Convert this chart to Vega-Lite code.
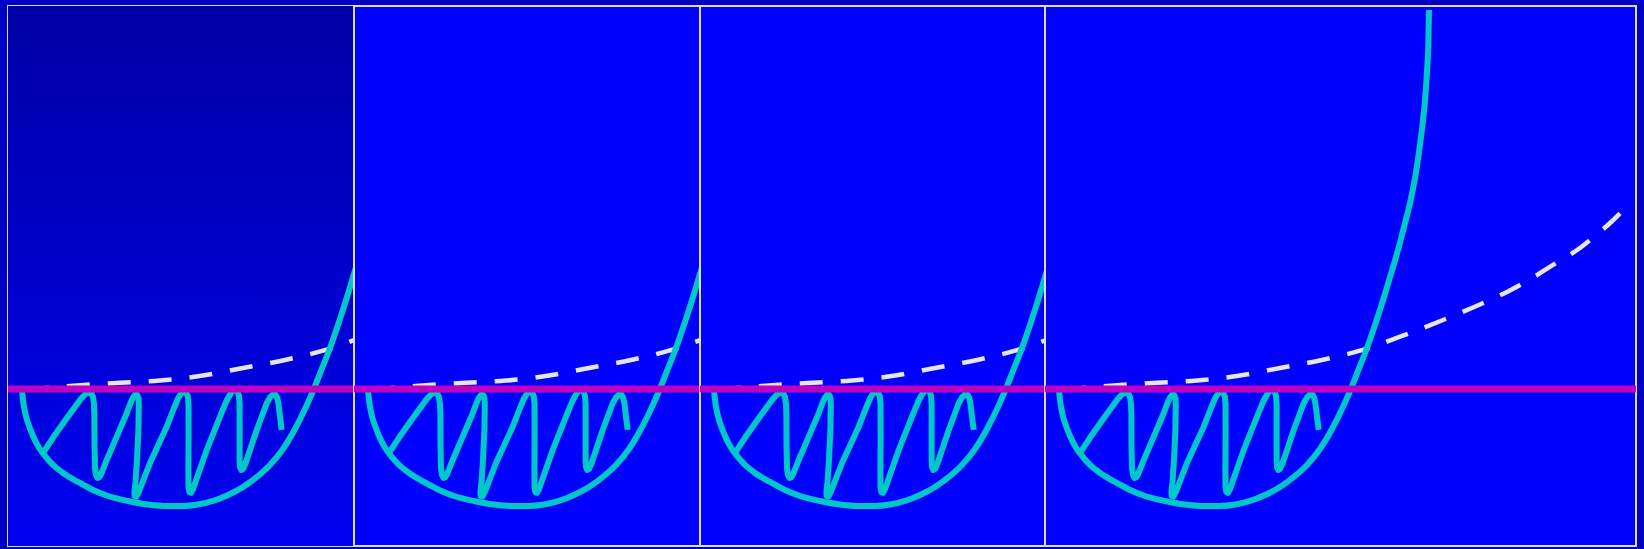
{
  "$schema": "https://vega.github.io/schema/vega-lite/v6.json",
  "background": "#0000c4",
  "padding": {"left": 7, "top": 5, "right": 7, "bottom": 2},
  "spacing": 0,
  "bounds": "flush",
  "config": {
    "view": {"stroke": "#dcdcdc", "strokeWidth": 2, "fill": "#0000ff"},
    "concat": {"spacing": 0}
  },
  "datasets": {
    "bg": [{"x": 0, "x2": 10, "y": -4.1, "y2": 10}],
    "zero": [{"y": 0}],
    "ucurve": [
      {"x": 0.405, "y": -0.026}, {"x": 0.434, "y": -0.287}, {"x": 0.491, "y": -0.601}, {"x": 0.578, "y": -0.888},
      {"x": 0.723, "y": -1.227}, {"x": 0.867, "y": -1.488}, {"x": 1.069, "y": -1.749}, {"x": 1.301, "y": -1.984},
      {"x": 1.59, "y": -2.193}, {"x": 2.023, "y": -2.428}, {"x": 2.457, "y": -2.637}, {"x": 2.89, "y": -2.794},
      {"x": 3.468, "y": -2.924}, {"x": 4.046, "y": -3.016}, {"x": 4.624, "y": -3.055}, {"x": 5.058, "y": -3.055},
      {"x": 5.491, "y": -3.016}, {"x": 5.925, "y": -2.924}, {"x": 6.358, "y": -2.768}, {"x": 6.792, "y": -2.559},
      {"x": 7.225, "y": -2.272}, {"x": 7.572, "y": -1.984}, {"x": 7.948, "y": -1.567}, {"x": 8.295, "y": -1.044},
      {"x": 8.584, "y": -0.522}, {"x": 8.815, "y": -0.052}, {"x": 9.046, "y": 0.47}, {"x": 9.306, "y": 1.07},
      {"x": 9.566, "y": 1.749}, {"x": 9.798, "y": 2.402}, {"x": 10.0, "y": 3.003}, {"x": 10.202, "y": 3.629},
      {"x": 10.376, "y": 4.23}, {"x": 10.549, "y": 4.856}, {"x": 10.694, "y": 5.509}, {"x": 10.809, "y": 6.188},
      {"x": 10.91, "y": 6.893}, {"x": 10.983, "y": 7.546}, {"x": 11.04, "y": 8.277}, {"x": 11.078, "y": 8.982},
      {"x": 11.098, "y": 9.896}
    ],
    "wiggle": [
      {"i": 1, "x": 0.974, "y": -1.723}, {"i": 2, "x": 1.309, "y": -1.261}, {"i": 3, "x": 1.697, "y": -0.765},
      {"i": 4, "x": 2.081, "y": -0.287}, {"i": 5, "x": 2.182, "y": -0.183}, {"i": 6, "x": 2.269, "y": -0.112},
      {"i": 7, "x": 2.35, "y": -0.094}, {"i": 8, "x": 2.413, "y": -0.125}, {"i": 9, "x": 2.457, "y": -0.209},
      {"i": 10, "x": 2.486, "y": -0.392}, {"i": 11, "x": 2.497, "y": -0.679}, {"i": 12, "x": 2.5, "y": -1.462},
      {"i": 13, "x": 2.514, "y": -2.063}, {"i": 14, "x": 2.543, "y": -2.245}, {"i": 15, "x": 2.587, "y": -2.324},
      {"i": 16, "x": 2.639, "y": -2.305}, {"i": 17, "x": 2.688, "y": -2.232}, {"i": 18, "x": 2.853, "y": -1.854},
      {"i": 19, "x": 3.142, "y": -1.245}, {"i": 20, "x": 3.431, "y": -0.634}, {"i": 21, "x": 3.54, "y": -0.366},
      {"i": 22, "x": 3.613, "y": -0.222}, {"i": 23, "x": 3.679, "y": -0.146}, {"i": 24, "x": 3.737, "y": -0.157},
      {"i": 25, "x": 3.772, "y": -0.248}, {"i": 26, "x": 3.78, "y": -0.418}, {"i": 27, "x": 3.769, "y": -1.07},
      {"i": 28, "x": 3.728, "y": -1.854}, {"i": 29, "x": 3.685, "y": -2.428}, {"i": 30, "x": 3.656, "y": -2.663},
      {"i": 31, "x": 3.659, "y": -2.794}, {"i": 32, "x": 3.714, "y": -2.807}, {"i": 33, "x": 3.786, "y": -2.676},
      {"i": 34, "x": 4.104, "y": -1.932}, {"i": 35, "x": 4.587, "y": -0.984}, {"i": 36, "x": 4.798, "y": -0.496},
      {"i": 37, "x": 4.913, "y": -0.248}, {"i": 38, "x": 5.009, "y": -0.104}, {"i": 39, "x": 5.087, "y": -0.068},
      {"i": 40, "x": 5.153, "y": -0.099}, {"i": 41, "x": 5.197, "y": -0.196}, {"i": 42, "x": 5.217, "y": -0.392},
      {"i": 43, "x": 5.22, "y": -1.149}, {"i": 44, "x": 5.214, "y": -2.115}, {"i": 45, "x": 5.217, "y": -2.559},
      {"i": 46, "x": 5.24, "y": -2.689}, {"i": 47, "x": 5.289, "y": -2.71}, {"i": 48, "x": 5.347, "y": -2.611},
      {"i": 49, "x": 5.743, "y": -1.593}, {"i": 50, "x": 6.127, "y": -0.723}, {"i": 51, "x": 6.315, "y": -0.313},
      {"i": 52, "x": 6.416, "y": -0.144}, {"i": 53, "x": 6.503, "y": -0.039}, {"i": 54, "x": 6.575, "y": -0.021},
      {"i": 55, "x": 6.639, "y": -0.065}, {"i": 56, "x": 6.676, "y": -0.183}, {"i": 57, "x": 6.694, "y": -0.392},
      {"i": 58, "x": 6.694, "y": -1.149}, {"i": 59, "x": 6.694, "y": -1.854}, {"i": 60, "x": 6.705, "y": -2.037},
      {"i": 61, "x": 6.743, "y": -2.115}, {"i": 62, "x": 6.792, "y": -2.089}, {"i": 63, "x": 6.864, "y": -1.945},
      {"i": 64, "x": 7.188, "y": -1.07}, {"i": 65, "x": 7.477, "y": -0.373}, {"i": 66, "x": 7.572, "y": -0.222},
      {"i": 67, "x": 7.659, "y": -0.144}, {"i": 68, "x": 7.731, "y": -0.149}, {"i": 69, "x": 7.78, "y": -0.235},
      {"i": 70, "x": 7.818, "y": -0.392}, {"i": 71, "x": 7.861, "y": -0.723}, {"i": 72, "x": 7.91, "y": -1.07}
    ],
    "dashed": [
      {"x": 0.52, "y": -0.02}, {"x": 1.156, "y": 0.03}, {"x": 2.081, "y": 0.1}, {"x": 3.237, "y": 0.16},
      {"x": 4.393, "y": 0.22}, {"x": 5.636, "y": 0.35}, {"x": 6.792, "y": 0.548}, {"x": 8.006, "y": 0.757},
      {"x": 9.104, "y": 1.0}, {"x": 10.318, "y": 1.384}, {"x": 11.503, "y": 1.802}, {"x": 12.601, "y": 2.22},
      {"x": 13.41, "y": 2.56}, {"x": 14.017, "y": 2.86}, {"x": 14.682, "y": 3.24}, {"x": 15.491, "y": 3.7},
      {"x": 15.954, "y": 4.04}, {"x": 16.387, "y": 4.38}, {"x": 16.879, "y": 4.83}
    ]
  },
  "hconcat": [
    {
      "width": 346, "height": 540,
      "layer": [
        {"data": {"name": "bg"}, "mark": {"type": "rect", "clip": true, "fill": {"gradient": "linear", "x1": 0, "y1": 0, "x2": 0, "y2": 1, "stops": [{"offset": 0, "color": "#0000a6"}, {"offset": 1, "color": "#0000f2"}]}},
         "encoding": {"x": {"field": "x", "type": "quantitative", "scale": {"domain": [0, 10], "nice": false, "zero": false}, "axis": null}, "x2": {"field": "x2"},
                      "y": {"field": "y", "type": "quantitative", "scale": {"domain": [-4.1, 10], "nice": false, "zero": false}, "axis": null}, "y2": {"field": "y2"}}},
        {"data": {"name": "dashed"}, "mark": {"type": "line", "clip": true, "color": "#e6e6e6", "strokeWidth": 4.5, "strokeDash": [23, 18], "interpolate": "monotone", "strokeCap": "butt"},
         "encoding": {"x": {"field": "x", "type": "quantitative", "scale": {"domain": [0, 10], "nice": false, "zero": false}, "axis": null}, "y": {"field": "y", "type": "quantitative", "scale": {"domain": [-4.1, 10], "nice": false, "zero": false}, "axis": null}}},
        {"data": {"name": "ucurve"}, "mark": {"type": "line", "clip": true, "color": "#00c8c8", "strokeWidth": 6, "interpolate": "monotone", "strokeCap": "butt"},
         "encoding": {"x": {"field": "x", "type": "quantitative", "scale": {"domain": [0, 10], "nice": false, "zero": false}, "axis": null}, "y": {"field": "y", "type": "quantitative", "scale": {"domain": [-4.1, 10], "nice": false, "zero": false}, "axis": null}}},
        {"data": {"name": "wiggle"}, "mark": {"type": "line", "clip": true, "color": "#00c8c8", "strokeWidth": 6, "strokeCap": "butt", "strokeJoin": "round"},
         "encoding": {"x": {"field": "x", "type": "quantitative", "scale": {"domain": [0, 10], "nice": false, "zero": false}, "axis": null}, "y": {"field": "y", "type": "quantitative", "scale": {"domain": [-4.1, 10], "nice": false, "zero": false}, "axis": null}, "order": {"field": "i", "type": "quantitative"}}},
        {"data": {"name": "zero"}, "mark": {"type": "rule", "clip": true, "color": "#c000c0", "strokeWidth": 7, "strokeCap": "butt"},
         "encoding": {"y": {"field": "y", "type": "quantitative", "scale": {"domain": [-4.1, 10], "nice": false, "zero": false}, "axis": null}}}
      ]
    },
    {
      "width": 346, "height": 540,
      "layer": [
        {"data": {"name": "dashed"}, "mark": {"type": "line", "clip": true, "color": "#e6e6e6", "strokeWidth": 4.5, "strokeDash": [23, 18], "interpolate": "monotone", "strokeCap": "butt"},
         "encoding": {"x": {"field": "x", "type": "quantitative", "scale": {"domain": [0, 10], "nice": false, "zero": false}, "axis": null}, "y": {"field": "y", "type": "quantitative", "scale": {"domain": [-4.1, 10], "nice": false, "zero": false}, "axis": null}}},
        {"data": {"name": "ucurve"}, "mark": {"type": "line", "clip": true, "color": "#00c8c8", "strokeWidth": 6, "interpolate": "monotone", "strokeCap": "butt"},
         "encoding": {"x": {"field": "x", "type": "quantitative", "scale": {"domain": [0, 10], "nice": false, "zero": false}, "axis": null}, "y": {"field": "y", "type": "quantitative", "scale": {"domain": [-4.1, 10], "nice": false, "zero": false}, "axis": null}}},
        {"data": {"name": "wiggle"}, "mark": {"type": "line", "clip": true, "color": "#00c8c8", "strokeWidth": 6, "strokeCap": "butt", "strokeJoin": "round"},
         "encoding": {"x": {"field": "x", "type": "quantitative", "scale": {"domain": [0, 10], "nice": false, "zero": false}, "axis": null}, "y": {"field": "y", "type": "quantitative", "scale": {"domain": [-4.1, 10], "nice": false, "zero": false}, "axis": null}, "order": {"field": "i", "type": "quantitative"}}},
        {"data": {"name": "zero"}, "mark": {"type": "rule", "clip": true, "color": "#c000c0", "strokeWidth": 7, "strokeCap": "butt"},
         "encoding": {"y": {"field": "y", "type": "quantitative", "scale": {"domain": [-4.1, 10], "nice": false, "zero": false}, "axis": null}}}
      ]
    },
    {
      "width": 345, "height": 540,
      "layer": [
        {"data": {"name": "dashed"}, "mark": {"type": "line", "clip": true, "color": "#e6e6e6", "strokeWidth": 4.5, "strokeDash": [23, 18], "interpolate": "monotone", "strokeCap": "butt"},
         "encoding": {"x": {"field": "x", "type": "quantitative", "scale": {"domain": [0, 9.971], "nice": false, "zero": false}, "axis": null}, "y": {"field": "y", "type": "quantitative", "scale": {"domain": [-4.1, 10], "nice": false, "zero": false}, "axis": null}}},
        {"data": {"name": "ucurve"}, "mark": {"type": "line", "clip": true, "color": "#00c8c8", "strokeWidth": 6, "interpolate": "monotone", "strokeCap": "butt"},
         "encoding": {"x": {"field": "x", "type": "quantitative", "scale": {"domain": [0, 9.971], "nice": false, "zero": false}, "axis": null}, "y": {"field": "y", "type": "quantitative", "scale": {"domain": [-4.1, 10], "nice": false, "zero": false}, "axis": null}}},
        {"data": {"name": "wiggle"}, "mark": {"type": "line", "clip": true, "color": "#00c8c8", "strokeWidth": 6, "strokeCap": "butt", "strokeJoin": "round"},
         "encoding": {"x": {"field": "x", "type": "quantitative", "scale": {"domain": [0, 9.971], "nice": false, "zero": false}, "axis": null}, "y": {"field": "y", "type": "quantitative", "scale": {"domain": [-4.1, 10], "nice": false, "zero": false}, "axis": null}, "order": {"field": "i", "type": "quantitative"}}},
        {"data": {"name": "zero"}, "mark": {"type": "rule", "clip": true, "color": "#c000c0", "strokeWidth": 7, "strokeCap": "butt"},
         "encoding": {"y": {"field": "y", "type": "quantitative", "scale": {"domain": [-4.1, 10], "nice": false, "zero": false}, "axis": null}}}
      ]
    },
    {
      "width": 591, "height": 540,
      "layer": [
        {"data": {"name": "dashed"}, "mark": {"type": "line", "clip": true, "color": "#e6e6e6", "strokeWidth": 4.5, "strokeDash": [23, 18], "interpolate": "monotone", "strokeCap": "butt"},
         "encoding": {"x": {"field": "x", "type": "quantitative", "scale": {"domain": [0, 17.081], "nice": false, "zero": false}, "axis": null}, "y": {"field": "y", "type": "quantitative", "scale": {"domain": [-4.1, 10], "nice": false, "zero": false}, "axis": null}}},
        {"data": {"name": "ucurve"}, "mark": {"type": "line", "clip": true, "color": "#00c8c8", "strokeWidth": 6, "interpolate": "monotone", "strokeCap": "butt"},
         "encoding": {"x": {"field": "x", "type": "quantitative", "scale": {"domain": [0, 17.081], "nice": false, "zero": false}, "axis": null}, "y": {"field": "y", "type": "quantitative", "scale": {"domain": [-4.1, 10], "nice": false, "zero": false}, "axis": null}}},
        {"data": {"name": "wiggle"}, "mark": {"type": "line", "clip": true, "color": "#00c8c8", "strokeWidth": 6, "strokeCap": "butt", "strokeJoin": "round"},
         "encoding": {"x": {"field": "x", "type": "quantitative", "scale": {"domain": [0, 17.081], "nice": false, "zero": false}, "axis": null}, "y": {"field": "y", "type": "quantitative", "scale": {"domain": [-4.1, 10], "nice": false, "zero": false}, "axis": null}, "order": {"field": "i", "type": "quantitative"}}},
        {"data": {"name": "zero"}, "mark": {"type": "rule", "clip": true, "color": "#c000c0", "strokeWidth": 7, "strokeCap": "butt"},
         "encoding": {"y": {"field": "y", "type": "quantitative", "scale": {"domain": [-4.1, 10], "nice": false, "zero": false}, "axis": null}}}
      ]
    }
  ]
}
